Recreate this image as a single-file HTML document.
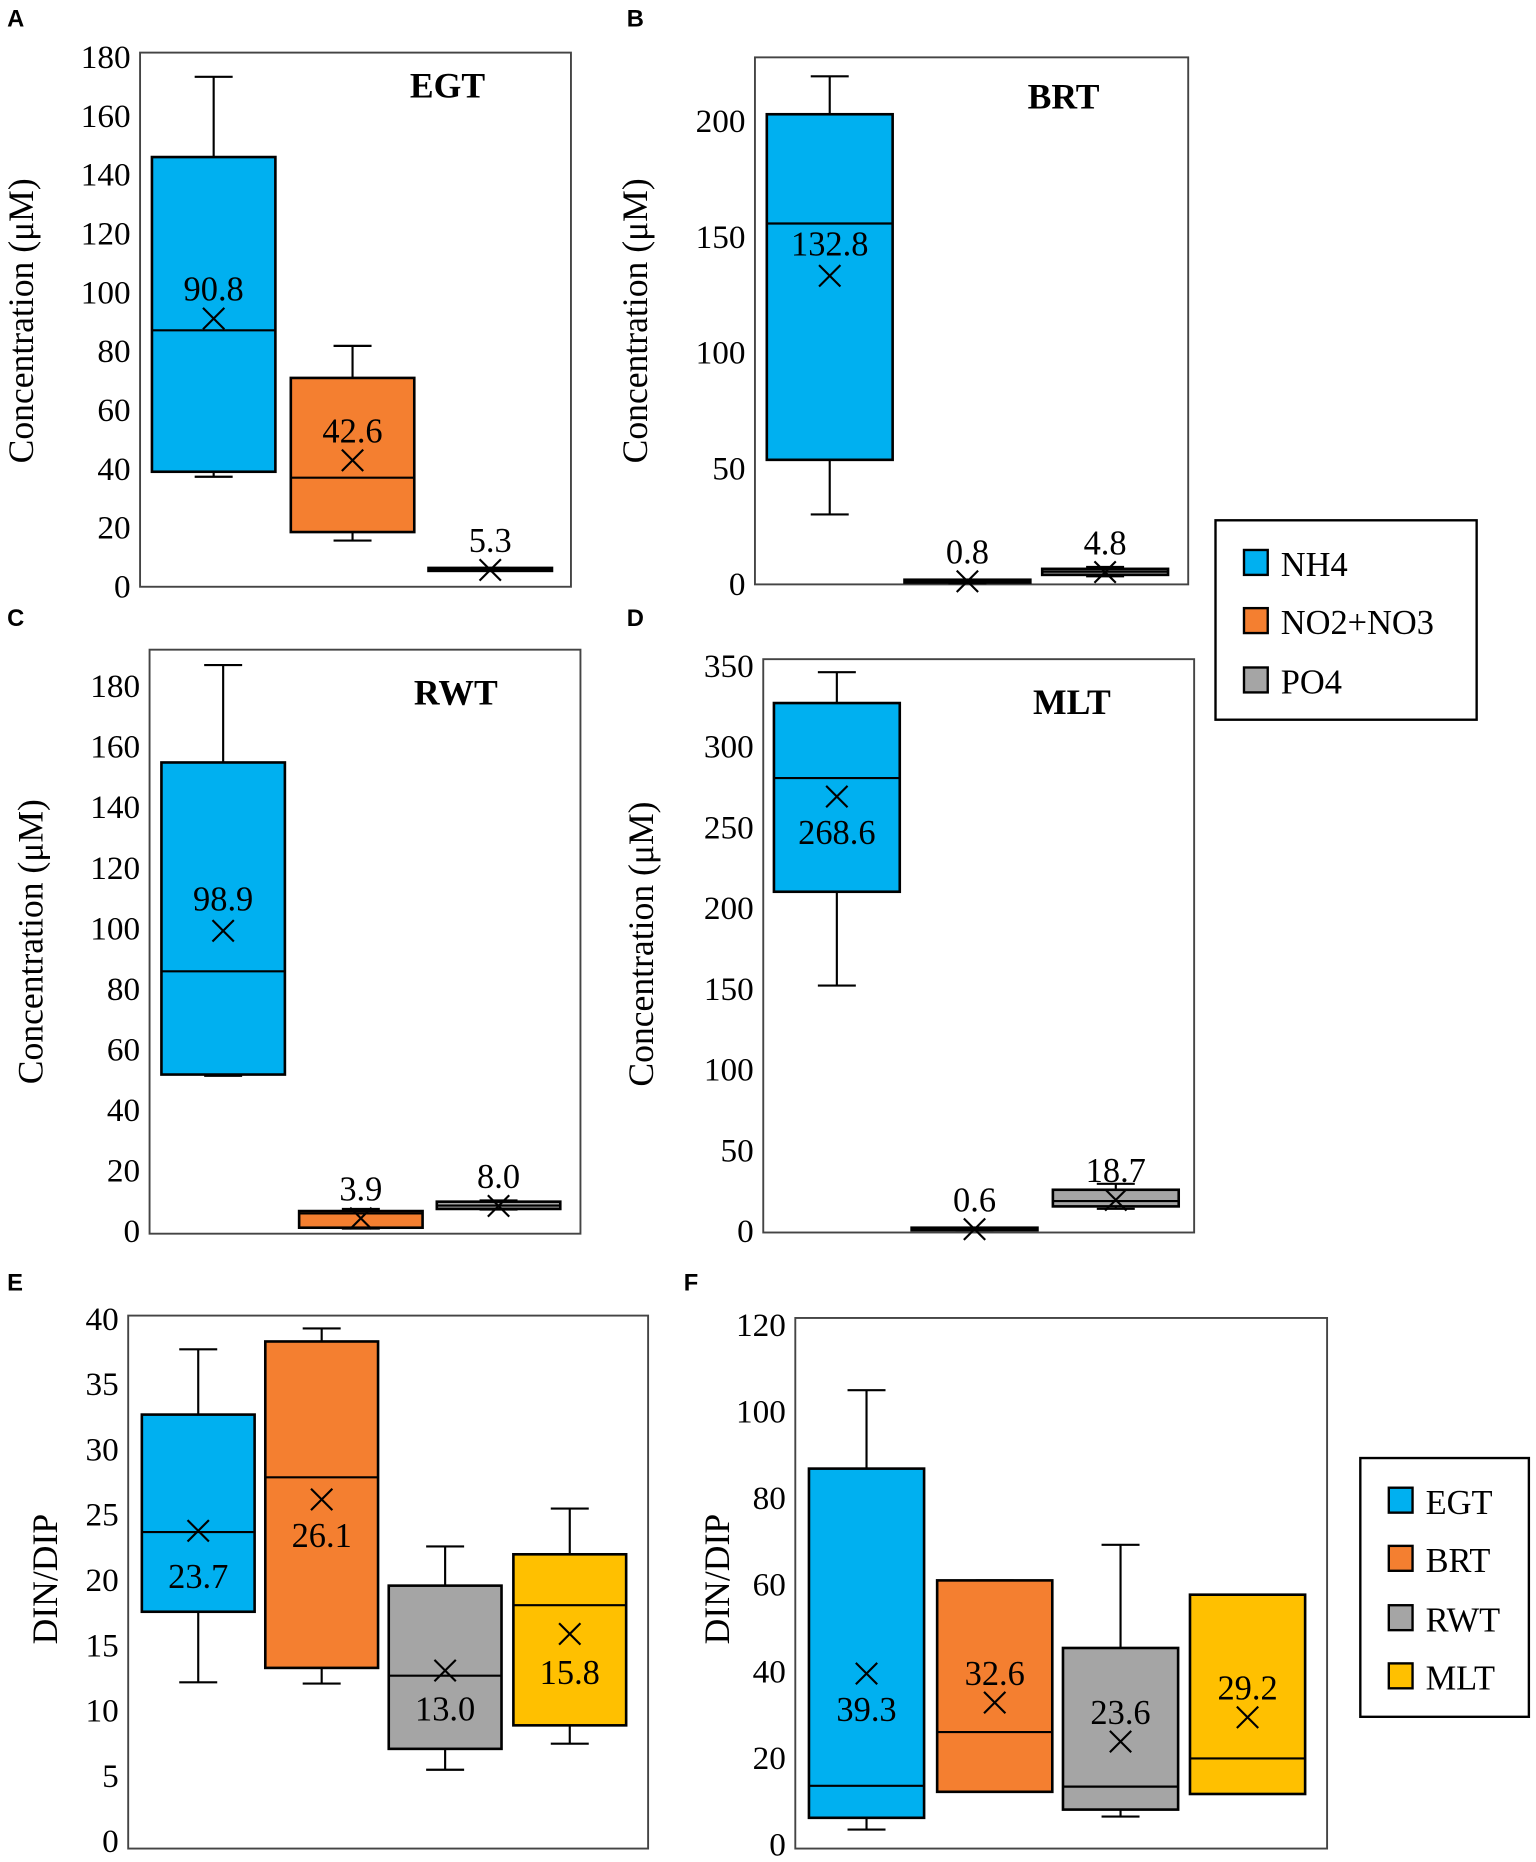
<!DOCTYPE html>
<html><head><meta charset="utf-8">
<style>
html,body{margin:0;padding:0;background:#fff;}
svg{display:block;}
</style></head>
<body>
<svg id="fig" width="1536" height="1862" viewBox="0 0 1294 1568" xmlns="http://www.w3.org/2000/svg"></svg>
<script>
// ---- data ----
const nutrientSeries = ["NH4","NO2+NO3","PO4"];
const siteSeries = ["EGT","BRT","RWT","MLT"];
const egtMax=[173,81.5,6], egtQ3=[145.7,70.6,6], egtMed=[86.8,36.7,5.5], egtQ1=[38.7,18.2,5], egtMin=[37,15.3,5], egtMean=[90.8,42.6,5.3];
const brtMax=[219,1.5,7], brtQ3=[202.6,1.5,6.2], brtMed=[155.4,1,5], brtQ1=[53.3,0.3,3.6], brtMin=[29.7,0,3], brtMean=[132.8,0.8,4.8];
const rwtMax=[186.7,7,9.8], rwtQ3=[154.5,6.3,9.4], rwtMed=[85.5,5.5,8.1], rwtQ1=[51.4,0.8,7], rwtMin=[51,0.5,6.8], rwtMean=[98.9,3.9,8.0];
const mltMax=[345.6,1.5,28.7], mltQ3=[326.5,1.5,25], mltMed=[280,0.8,18], mltQ1=[209.6,0,14.7], mltMin=[151.5,0,13.2], mltMean=[268.6,0.6,18.7];
const dinMax=[37.6,39.2,22.5,25.4], dinQ3=[32.6,38.2,19.5,21.9], dinMed=[23.6,27.8,12.6,18], dinQ1=[17.5,13.2,7,8.8], dinMin=[12.1,12,5.4,7.4], dinMean=[23.7,26.1,13.0,15.8];
const fMax=[104.7,60.8,69,57.5], fQ3=[86.6,60.8,45.2,57.5], fMed=[13.4,25.8,13.2,19.7], fQ1=[6,12,7.9,11.5], fMin=[3.3,12,6.3,11.5], fMean=[39.3,32.6,23.6,29.2];
const ticksA=[0,20,40,60,80,100,120,140,160,180];
const ticksB=[0,50,100,150,200];
const ticksC=[0,20,40,60,80,100,120,140,160,180];
const ticksD=[0,50,100,150,200,250,300,350];
const ticksE=[0,5,10,15,20,25,30,35,40];
const ticksF=[0,20,40,60,80,100,120];

const colors4=["#00b0f0","#f47f30","#a5a5a5","#ffc000"];
const SERIF='"Liberation Serif", serif';
const SANS='"Liberation Sans", sans-serif';
const NS="http://www.w3.org/2000/svg";
const svg=document.getElementById('fig');
function el(tag,attrs,parent){const e=document.createElementNS(NS,tag);for(const k in attrs)e.setAttribute(k,attrs[k]);(parent||svg).appendChild(e);return e;}
function txt(s,attrs,parent){if(!attrs['font-family'])attrs['font-family']=SERIF;attrs.fill='#000';const e=el('text',attrs,parent);e.textContent=s;return e;}

function panel(cfg){
  const g=el('g',{});
  
  
  const lt=txt(cfg.letter,{x:cfg.lx,y:cfg.ly,'font-family':SANS,'font-weight':'bold','font-size':20},g);
  
  
  const fr=el('rect',{x:cfg.x0,y:cfg.y0,width:cfg.x1-cfg.x0,height:cfg.y1-cfg.y0,fill:'#fff',stroke:'#444','stroke-width':1.6},g);
  
  
  const ys=v=>cfg.zeroY+(cfg.topY-cfg.zeroY)*(v/cfg.topV);
  cfg.ticks.forEach(t=>{
    const e=txt(String(t),{x:cfg.x0-8,y:ys(t)+10,'font-size':28,'text-anchor':'end'},g);
    
    
  });
  const yl=txt(cfg.ylabel,{x:0,y:0,'font-size':30,'text-anchor':'middle',transform:`translate(${cfg.ylx},${cfg.yly}) rotate(-90)`},g);
  
  
  if(cfg.title){const t=txt(cfg.title,{x:cfg.tx,y:cfg.ty,'font-size':30,'font-weight':'bold','text-anchor':'middle'},g);
    
    }
  const n=cfg.mean.length;
  for(let i=0;i<n;i++){
    const cx=cfg.cx[i];
    const hw=cfg.bw/2;
    const bg=el('g',{},g);
    
    
    const sw=1.8;
    el('line',{x1:cx,x2:cx,y1:ys(cfg.max[i]),y2:ys(cfg.q3[i]),stroke:'#000','stroke-width':sw},bg);
    el('line',{x1:cx-16,x2:cx+16,y1:ys(cfg.max[i]),y2:ys(cfg.max[i]),stroke:'#000','stroke-width':sw},bg);
    el('line',{x1:cx,x2:cx,y1:ys(cfg.q1[i]),y2:ys(cfg.min[i]),stroke:'#000','stroke-width':sw},bg);
    el('line',{x1:cx-16,x2:cx+16,y1:ys(cfg.min[i]),y2:ys(cfg.min[i]),stroke:'#000','stroke-width':sw},bg);
    el('rect',{x:cx-hw,y:ys(cfg.q3[i]),width:cfg.bw,height:Math.max(2,ys(cfg.q1[i])-ys(cfg.q3[i])),fill:cfg.colors[i],stroke:'#000','stroke-width':2.2},bg);
    el('line',{x1:cx-hw,x2:cx+hw,y1:ys(cfg.med[i]),y2:ys(cfg.med[i]),stroke:'#000','stroke-width':sw},bg);
    const my=ys(cfg.mean[i]);
    el('path',{d:`M${cx-9} ${my-9}L${cx+9} ${my+9}M${cx+9} ${my-9}L${cx-9} ${my+9}`,stroke:'#000','stroke-width':1.8,fill:'none'},bg);
    const vt=txt(cfg.mean[i].toFixed(1),{x:cx,y:my+cfg.loff[i],'font-size':29,'text-anchor':'middle'},bg);
    
    
  }
}
function legend(x,y,w,h,names,cols,rowY,id){
  const g=el('g',{});
  
  
  el('rect',{x:x,y:y,width:w,height:h,fill:'#fff',stroke:'#000','stroke-width':2},g);
  names.forEach((n,i)=>{
    const yy=rowY[i];
    const it=el('g',{},g);
    
    
    el('rect',{x:x+24,y:yy-11,width:20,height:21,fill:cols[i],stroke:'#000','stroke-width':2},it);
    txt(n,{x:x+55,y:yy+11,'font-size':29},it);
  });
}
const nutNames=nutrientSeries, c3=colors4.slice(0,3);
panel({id:'a',letter:'A',lx:6,ly:22,x0:118,y0:44,x1:481,y1:494,zeroY:493,topY:47,topV:180,ticks:ticksA,ylabel:'Concentration (μM)',ylx:28,yly:270,title:'EGT',tx:377,ty:82,cx:[180,297,413],bw:104,names:nutNames,colors:c3,
  max:egtMax,q3:egtQ3,med:egtMed,q1:egtQ1,min:egtMin,mean:egtMean,loff:[-15,-15,-15]});
panel({id:'b',letter:'B',lx:528,ly:22,x0:636,y0:48,x1:1001,y1:492,zeroY:491,topY:101,topV:200,ticks:ticksB,ylabel:'Concentration (μM)',ylx:545,yly:270,title:'BRT',tx:896,ty:91,cx:[699,815,931],bw:106,names:nutNames,colors:c3,
  max:brtMax,q3:brtQ3,med:brtMed,q1:brtQ1,min:brtMin,mean:brtMean,loff:[-17,-15,-15]});
legend(1024,438,220,168,nutrientSeries,c3,[474,523,573],'legend-nutrients');
panel({id:'c',letter:'C',lx:6,ly:527,x0:126,y0:547,x1:489,y1:1039,zeroY:1036,topY:577,topV:180,ticks:ticksC,ylabel:'Concentration (μM)',ylx:36,yly:793,title:'RWT',tx:384,ty:593,cx:[188,304,420],bw:104,names:nutNames,colors:c3,
  max:rwtMax,q3:rwtQ3,med:rwtMed,q1:rwtQ1,min:rwtMin,mean:rwtMean,loff:[-17,-15,-15]});
panel({id:'d',letter:'D',lx:528,ly:527,x0:643,y0:555,x1:1006,y1:1038,zeroY:1036,topY:560,topV:350,ticks:ticksD,ylabel:'Concentration (μM)',ylx:550,yly:795,title:'MLT',tx:903,ty:601,cx:[705,821,940],bw:106,names:nutNames,colors:c3,
  max:mltMax,q3:mltQ3,med:mltMed,q1:mltQ1,min:mltMin,mean:mltMean,loff:[40,-15,-15]});
panel({id:'e',letter:'E',lx:6,ly:1087,x0:108,y0:1108,x1:546,y1:1557,zeroY:1550,topY:1110,topV:40,ticks:ticksE,ylabel:'DIN/DIP',ylx:48,yly:1330,title:'',cx:[167,271,375,480],bw:95,names:siteSeries,colors:colors4,
  max:dinMax,q3:dinQ3,med:dinMed,q1:dinQ1,min:dinMin,mean:dinMean,loff:[48,40,42,42]});
panel({id:'f',letter:'F',lx:576,ly:1087,x0:670,y0:1110,x1:1118,y1:1557,zeroY:1553,topY:1115,topV:120,ticks:ticksF,ylabel:'DIN/DIP',ylx:614,yly:1330,title:'',cx:[730,838,944,1051],bw:97,names:siteSeries,colors:colors4,
  max:fMax,q3:fQ3,med:fMed,q1:fQ1,min:fMin,mean:fMean,loff:[40,-15,-15,-15]});
legend(1146,1228,142,218,siteSeries,colors4,[1264,1313,1363,1412],'legend-sites');
</script>
</body></html>
